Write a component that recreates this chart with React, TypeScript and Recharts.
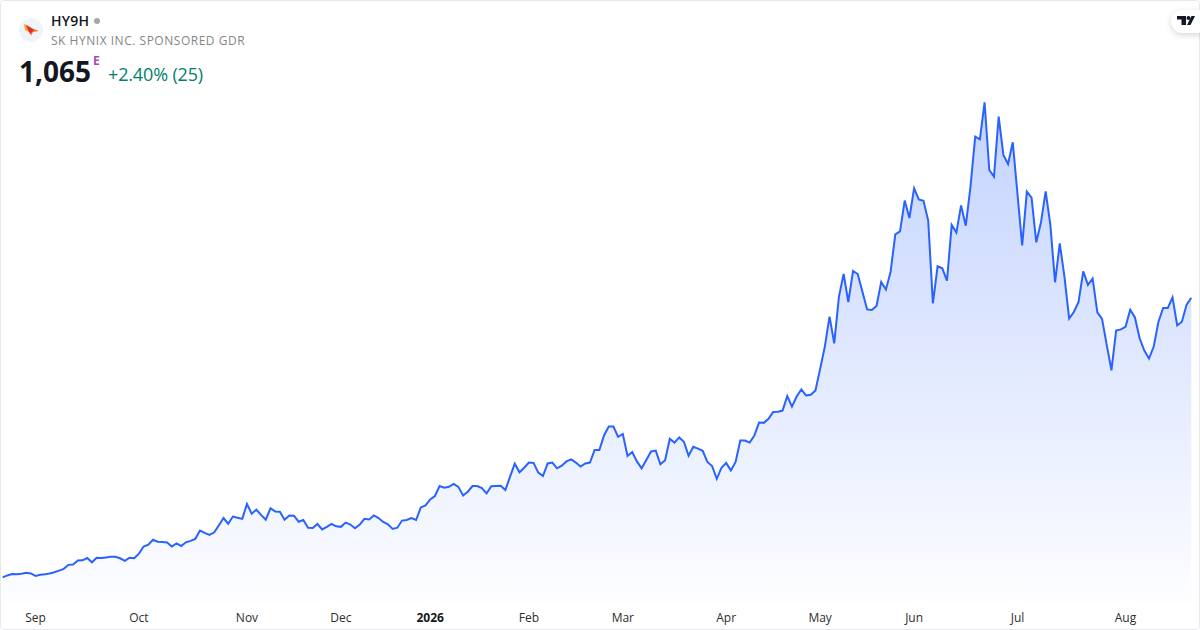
import { Area, AreaChart, XAxis, YAxis } from "recharts";

const closes = [
  86, 93, 98, 97, 99, 102, 100, 91, 95, 97, 100, 104, 110, 116, 130, 131, 145, 146, 154, 139,
  155, 154, 156, 158, 158, 153, 144, 155, 153, 169, 194, 201, 218, 211, 210, 208, 194, 205, 196, 209,
  214, 221, 250, 242, 235, 243, 268, 294, 274, 299, 295, 291, 343, 309, 323, 305, 288, 328, 317, 316,
  288, 303, 302, 281, 287, 260, 259, 273, 254, 263, 273, 265, 263, 278, 271, 258, 271, 291, 289, 303,
  294, 280, 272, 256, 260, 285, 287, 294, 287, 331, 338, 359, 371, 406, 400, 403, 413, 403, 373, 386,
  406, 406, 399, 380, 405, 406, 407, 392, 439, 484, 454, 470, 488, 487, 453, 441, 485, 488, 468, 477,
  492, 499, 488, 474, 485, 488, 532, 532, 583, 614, 614, 578, 588, 511, 525, 492, 468, 497, 527, 530,
  482, 496, 571, 558, 576, 561, 512, 543, 537, 529, 490, 476, 431, 470, 487, 460, 490, 565, 565, 558,
  583, 628, 627, 641, 665, 666, 670, 721, 684, 719, 744, 723, 725, 740, 816, 894, 999, 905, 1069, 1148,
  1050, 1159, 1148, 1086, 1024, 1022, 1036, 1120, 1094, 1156, 1287, 1297, 1405, 1344, 1448, 1409, 1404, 1335, 1045, 1175,
  1168, 1125, 1320, 1293, 1388, 1317, 1454, 1629, 1619, 1749, 1512, 1489, 1699, 1565, 1533, 1609, 1428, 1248, 1436, 1415,
  1259, 1328, 1437, 1320, 1119, 1255, 1139, 992, 1015, 1050, 1157, 1110, 1132, 1014, 991, 900, 811, 950, 954, 963,
  1023, 996, 923, 880, 852, 894, 980, 1029, 1029, 1066, 968, 981, 1041, 1065,
];

// session index where each month starts
const tickSessions = [7, 29, 52, 72, 91, 112, 132, 154, 174, 194, 216, 239];
const tickLabels = ["Sep", "Oct", "Nov", "Dec", "2026", "Feb", "Mar", "Apr", "May", "Jun", "Jul", "Aug"];

const data = closes.map((close, session) => ({ session, close }));

const font = "'Open Sans', sans-serif";

function MonthTick({ x, payload }: any) {
  const label = tickLabels[tickSessions.indexOf(payload.value)];
  return (
    <text
      x={x}
      y={622}
      textAnchor="middle"
      fontFamily={font}
      fontSize={12}
      fontWeight={label === "2026" ? 700 : 400}
      fill={label === "2026" ? "#131722" : "#2e2e2e"}
    >
      {label}
    </text>
  );
}

export default function App() {
  return (
    <div
      style={{
        position: "absolute",
        left: 0,
        top: 0,
        width: 1200,
        height: 630,
        boxSizing: "border-box",
        overflow: "hidden",
        background: "#fff",
        fontFamily: font,
      }}
    >
      <AreaChart
        width={1200}
        height={630}
        data={data}
        margin={{ top: 0, right: 8.7, bottom: 0, left: 2.67 }}
      >
        <defs>
          <linearGradient id="priceFill" x1="0" y1="0" x2="0" y2="1">
            <stop offset="0%" stopColor="#2962FF" stopOpacity={0.28} />
            <stop offset="100%" stopColor="#2962FF" stopOpacity={0.01} />
          </linearGradient>
        </defs>
        <XAxis
          dataKey="session"
          type="number"
          domain={[0, closes.length - 1]}
          ticks={tickSessions}
          tick={<MonthTick />}
          axisLine={false}
          tickLine={false}
          height={28}
          interval={0}
        />
        <YAxis hide domain={[0, 2107]} />
        <Area
          type="linear"
          dataKey="close"
          stroke="#2962FF"
          strokeWidth={2}
          fill="url(#priceFill)"
          fillOpacity={1}
          dot={false}
          activeDot={false}
          isAnimationActive={false}
        />
      </AreaChart>

      <div
        style={{
          position: "absolute",
          inset: 0,
          border: "1px solid #e6e8ee",
          borderRadius: 4,
          boxSizing: "border-box",
          pointerEvents: "none",
        }}
      />

      <svg width={24} height={24} style={{ position: "absolute", left: 19, top: 18 }}>
        <circle cx={12} cy={12} r={12} fill="#f0f3fa" />
        <polygon points="5,6 12,9 10,14 6,12" fill="#f5a623" />
        <polygon points="10,9 20,13 14,14 12,18" fill="#f47a20" />
        <polygon points="7,7 15,12 11,16" fill="#e0263c" />
      </svg>

      <div style={{ position: "absolute", left: 51, top: 11, fontSize: 14, fontWeight: 600, letterSpacing: 0.2, color: "#131722", lineHeight: "20px" }}>
        HY9H
      </div>
      <div style={{ position: "absolute", left: 94, top: 18, width: 6, height: 6, borderRadius: 3, background: "#a3a6af" }} />
      <div style={{ position: "absolute", left: 51, top: 32, fontSize: 12, letterSpacing: 0.52, color: "#868686", lineHeight: "17px" }}>
        SK HYNIX INC. SPONSORED GDR
      </div>
      <div style={{ position: "absolute", left: 19, top: 52, fontSize: 28, fontWeight: 700, color: "#131722", lineHeight: "38px" }}>
        1,065
      </div>
      <div style={{ position: "absolute", left: 93, top: 53, fontSize: 12, fontWeight: 700, color: "#ab47bc", lineHeight: "16px" }}>
        E
      </div>
      <div style={{ position: "absolute", left: 108, top: 62, fontSize: 18, letterSpacing: -0.15, color: "#00806a", lineHeight: "25px" }}>
        +2.40% (25)
      </div>

      <div
        style={{
          position: "absolute",
          left: 1171,
          top: 10,
          width: 40,
          height: 23,
          borderRadius: 12,
          background: "#fff",
          boxShadow: "0 2px 6px rgba(0,0,0,0.16)",
        }}
      >
        <svg width={20} height={12} style={{ position: "absolute", left: 6, top: 6 }}>
          <path d="M0 0H9V9H4.5V3.5H0Z M14.5 0H18L13.5 9H10Z" fill="#131722" />
          <circle cx={11.5} cy={2} r={2} fill="#131722" />
        </svg>
      </div>
    </div>
  );
}
